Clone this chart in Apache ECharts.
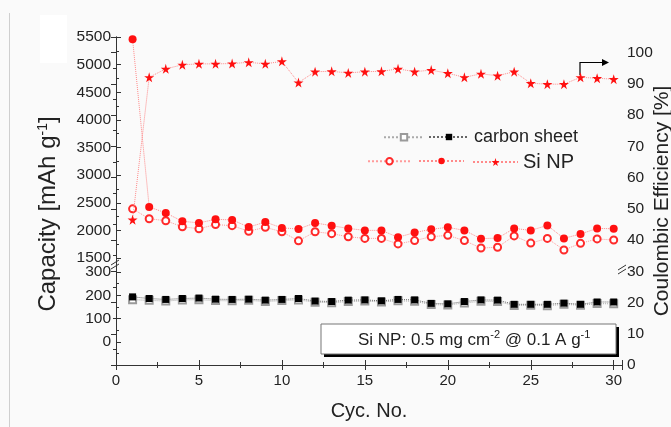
<!DOCTYPE html>
<html>
<head>
<meta charset="utf-8">
<script src="https://cdn.jsdelivr.net/npm/echarts@6/dist/echarts.min.js"></script>
<style>
  html, body { margin: 0; padding: 0; background: #fafafa; }
  #chart { width: 671px; height: 427px; }
</style>
</head>
<body>
<div id="chart"></div>
<script>
// cycle numbers
var cycles = [1, 2, 3, 4, 5, 6, 7, 8, 9, 10, 11, 12, 13, 14, 15,
              16, 17, 18, 19, 20, 21, 22, 23, 24, 25, 26, 27, 28, 29, 30];

// Si NP capacities [mAh/g]
var siOpen = [2390, 2210, 2175, 2065, 2030, 2105, 2085, 1985, 2055, 1975,
              1810, 1975, 1940, 1885, 1855, 1855, 1755, 1815, 1885, 1910,
              1815, 1680, 1695, 1900, 1770, 1855, 1645, 1765, 1845, 1825];
var siFilled = [5460, 2425, 2315, 2165, 2135, 2200, 2190, 2060, 2150, 2045,
                2025, 2135, 2085, 2035, 2000, 2000, 1875, 1960, 2020, 2055,
                2000, 1850, 1860, 2035, 2000, 2090, 1855, 1935, 2035, 2030];
// Si NP coulombic efficiency [%]
var siCE = [46.5, 92.1, 94.8, 96.1, 96.4, 96.4, 96.5, 96.9, 96.4, 97.2,
            90.4, 93.9, 94.0, 93.5, 93.9, 94.0, 94.8, 93.9, 94.4, 93.4,
            92.1, 93.2, 92.6, 93.9, 90.2, 89.9, 89.9, 92.1, 91.8, 91.5];

// carbon sheet capacities [mAh/g]
var csOpen = [181, 178, 175, 180, 181, 177, 176, 178, 173, 177,
              180, 170, 168, 173, 175, 171, 176, 174, 160, 158,
              167, 174, 173, 156, 157, 155, 161, 157, 164, 163];
var csFilled = [193, 186, 182, 186, 188, 183, 182, 183, 179, 182,
                186, 175, 173, 179, 180, 176, 182, 180, 165, 163,
                173, 180, 179, 161, 161, 161, 166, 161, 171, 171];

var SANS = "'Liberation Sans', Arial, sans-serif";
var INK = '#222';
var AX = '#333';
var STAR = 'path://M50,0 L61,35 L98,35 L68,57 L79,91 L50,70 L21,91 L32,57 L2,35 L39,35 Z';

function pairs(ys) {
    return cycles.map(function (c, i) { return [c, ys[i]]; });
}

var tickIn = { show: true, inside: true, length: 5, lineStyle: { color: AX } };
var minorIn = { show: true, splitNumber: 2, length: 3, lineStyle: { color: AX } };
var noSplit = { show: false };

var chart = echarts.init(document.getElementById('chart'), null, { renderer: 'canvas' });

var option = {
    backgroundColor: '#fafafa',
    animation: false,
    textStyle: { fontFamily: SANS, color: INK },
    grid: [
        { left: 116, right: 49, top: 37, height: 221, outerBoundsMode: 'none' },
        { left: 116, right: 49, top: 272, height: 93, outerBoundsMode: 'none' },
        { left: 116, right: 49, top: 37, height: 328, outerBoundsMode: 'none' }
    ],
    xAxis: [
        { type: 'value', gridIndex: 0, min: 0, max: 30.5, interval: 5, show: false },
        { type: 'value', gridIndex: 1, min: 0, max: 30.5, interval: 5, show: false },
        {
            type: 'value', gridIndex: 2, position: 'bottom', min: 0, max: 30.5, interval: 5,
            axisLine: { show: true, lineStyle: { color: AX } },
            axisTick: tickIn, minorTick: minorIn, splitLine: noSplit,
            axisLabel: {
                margin: 8, fontSize: 15, color: INK,
                formatter: function (v) { return v % 5 === 0 ? String(v) : ''; }
            },
            name: 'Cyc. No.', nameLocation: 'middle', nameGap: 36, nameMoveOverlap: false,
            nameTextStyle: { fontSize: 20, color: INK }
        },
        {
            type: 'value', gridIndex: 2, position: 'top', min: 0, max: 30.5, interval: 5,
            axisLine: { show: true, lineStyle: { color: AX } },
            axisTick: tickIn, minorTick: minorIn, splitLine: noSplit,
            axisLabel: { show: false }
        }
    ],
    yAxis: [
        {
            type: 'value', gridIndex: 0, min: 1500, max: 5500, interval: 500,
            axisLine: { show: false }, axisTick: tickIn, minorTick: minorIn, splitLine: noSplit,
            axisLabel: {
                margin: 5, fontSize: 15.5, color: INK,
                formatter: function (v) { return String(v); }
            }
        },
        {
            type: 'value', gridIndex: 1, min: -100, max: 300, interval: 100,
            axisLine: { show: false }, axisTick: tickIn, minorTick: minorIn, splitLine: noSplit,
            axisLabel: {
                margin: 5, fontSize: 15.5, color: INK,
                formatter: function (v) { return v < 0 ? '' : String(v); }
            }
        },
        {
            type: 'value', gridIndex: 2, position: 'left', min: 0, max: 1,
            axisLine: { show: true, lineStyle: { color: AX } },
            axisTick: { show: false }, axisLabel: { show: false }, splitLine: noSplit,
            name: 'Capacity [mAh g{sup|-1}]', nameLocation: 'middle', nameGap: 55, nameRotate: 90,
            nameMoveOverlap: false,
            nameTextStyle: {
                fontSize: 24, color: INK, padding: [0, 26, 0, 0],
                rich: { sup: { fontSize: 14, fontFamily: SANS, color: INK, padding: [0, 0, 11, 0] } }
            }
        },
        {
            type: 'value', gridIndex: 2, position: 'right', min: 0, max: 105, interval: 10,
            axisLine: { show: true, lineStyle: { color: AX } },
            axisTick: tickIn, minorTick: minorIn, splitLine: noSplit,
            axisLabel: {
                margin: 5, fontSize: 15.5, color: INK,
                formatter: function (v) { return v <= 100 ? String(v) : ''; }
            },
            name: 'Coulombic Efficiency [%]', nameLocation: 'middle', nameGap: 30, nameRotate: 90,
            nameMoveOverlap: false,
            nameTextStyle: { fontSize: 21, color: INK }
        }
    ],
    legend: [
        {
            data: ['cs_open'], left: 383, top: 133, padding: 0, selectedMode: false,
            itemWidth: 40, itemHeight: 8, formatter: function () { return ''; }
        },
        {
            data: ['carbon sheet'], left: 428, top: 128, padding: 0, selectedMode: false,
            itemWidth: 40, itemHeight: 8,
            textStyle: { fontSize: 18, color: INK }
        },
        {
            data: ['si_open'], left: 367, top: 157, padding: 0, selectedMode: false,
            itemWidth: 43, itemHeight: 8, formatter: function () { return ''; }
        },
        {
            data: ['si_filled'], left: 418, top: 157, padding: 0, selectedMode: false,
            itemWidth: 45, itemHeight: 8, formatter: function () { return ''; }
        },
        {
            data: ['Si NP'], left: 472, top: 152, padding: 0, selectedMode: false,
            itemWidth: 45, itemHeight: 10,
            textStyle: { fontSize: 20, color: INK }
        }
    ],
    series: [
        {
            name: 'cs_open', type: 'line', xAxisIndex: 1, yAxisIndex: 1, data: pairs(csOpen),
            symbol: 'emptyRect', symbolSize: 7, z: 2,
            itemStyle: { color: '#9a9a9a', borderWidth: 1 },
            lineStyle: { color: '#aaaaaa', width: 1, type: 'dotted' }
        },
        {
            name: 'carbon sheet', type: 'line', xAxisIndex: 1, yAxisIndex: 1, data: pairs(csFilled),
            symbol: 'rect', symbolSize: 7, z: 3,
            itemStyle: { color: '#000000' },
            lineStyle: { color: '#666666', width: 1, type: 'dotted' }
        },
        {
            name: 'si_open', type: 'line', xAxisIndex: 0, yAxisIndex: 0, data: pairs(siOpen),
            symbol: 'emptyCircle', symbolSize: 7, z: 2,
            itemStyle: { color: '#ff2a2a', borderWidth: 1 },
            lineStyle: { color: '#ff9a9a', width: 1, type: 'dotted' }
        },
        {
            name: 'si_filled', type: 'line', xAxisIndex: 0, yAxisIndex: 0, data: pairs(siFilled),
            symbol: 'circle', symbolSize: 8, z: 3,
            itemStyle: { color: '#ff1010' },
            lineStyle: { color: '#ff8a8a', width: 1, type: 'dotted' }
        },
        {
            name: 'Si NP', type: 'line', xAxisIndex: 2, yAxisIndex: 3, data: pairs(siCE),
            symbol: STAR, symbolSize: 10, z: 3,
            itemStyle: { color: '#ff1010' },
            lineStyle: { color: '#ff8a8a', width: 1, type: 'dotted' }
        }
    ],
    graphic: [
        // frame remnants of the original figure
        { type: 'line', silent: true, shape: { x1: 9.5, y1: 13, x2: 9.5, y2: 427 }, style: { stroke: '#cfcfcf', lineWidth: 1 } },
        { type: 'rect', silent: true, shape: { x: 40, y: 15, width: 27, height: 48 }, style: { fill: '#ffffff' } },
        // axis break marks
        { type: 'polyline', silent: true, shape: { points: [[111, 265], [119, 260]] }, style: { stroke: AX, lineWidth: 1 } },
        { type: 'polyline', silent: true, shape: { points: [[111, 269], [119, 264]] }, style: { stroke: AX, lineWidth: 1 } },
        { type: 'polyline', silent: true, shape: { points: [[618, 270], [626, 265]] }, style: { stroke: AX, lineWidth: 1 } },
        { type: 'polyline', silent: true, shape: { points: [[618, 274], [626, 269]] }, style: { stroke: AX, lineWidth: 1 } },
        // arrow pointing to the right axis
        { type: 'polyline', silent: true, shape: { points: [[580, 75], [580, 62.5], [603, 62.5]] }, style: { stroke: '#000', lineWidth: 1.2 } },
        { type: 'polygon', silent: true, shape: { points: [[602, 59], [609, 62.5], [602, 66]] }, style: { fill: '#000' } },
        // annotation box
        { type: 'rect', silent: true, shape: { x: 324, y: 327, width: 295, height: 30 }, style: { fill: '#000' } },
        { type: 'rect', silent: true, shape: { x: 321, y: 324, width: 295, height: 30 }, style: { fill: '#ffffff', stroke: '#777', lineWidth: 1 } },
        {
            type: 'text', silent: true, x: 358, y: 340,
            style: {
                text: 'Si NP: 0.5 mg cm{s|-2} @ 0.1 A g{s|-1}',
                font: '17px ' + SANS, fill: INK, verticalAlign: 'middle',
                rich: { s: { fontSize: 11, fontFamily: SANS, fill: INK, padding: [0, 0, 10, 0] } }
            }
        }
    ]
};

chart.setOption(option);
</script>
</body>
</html>
